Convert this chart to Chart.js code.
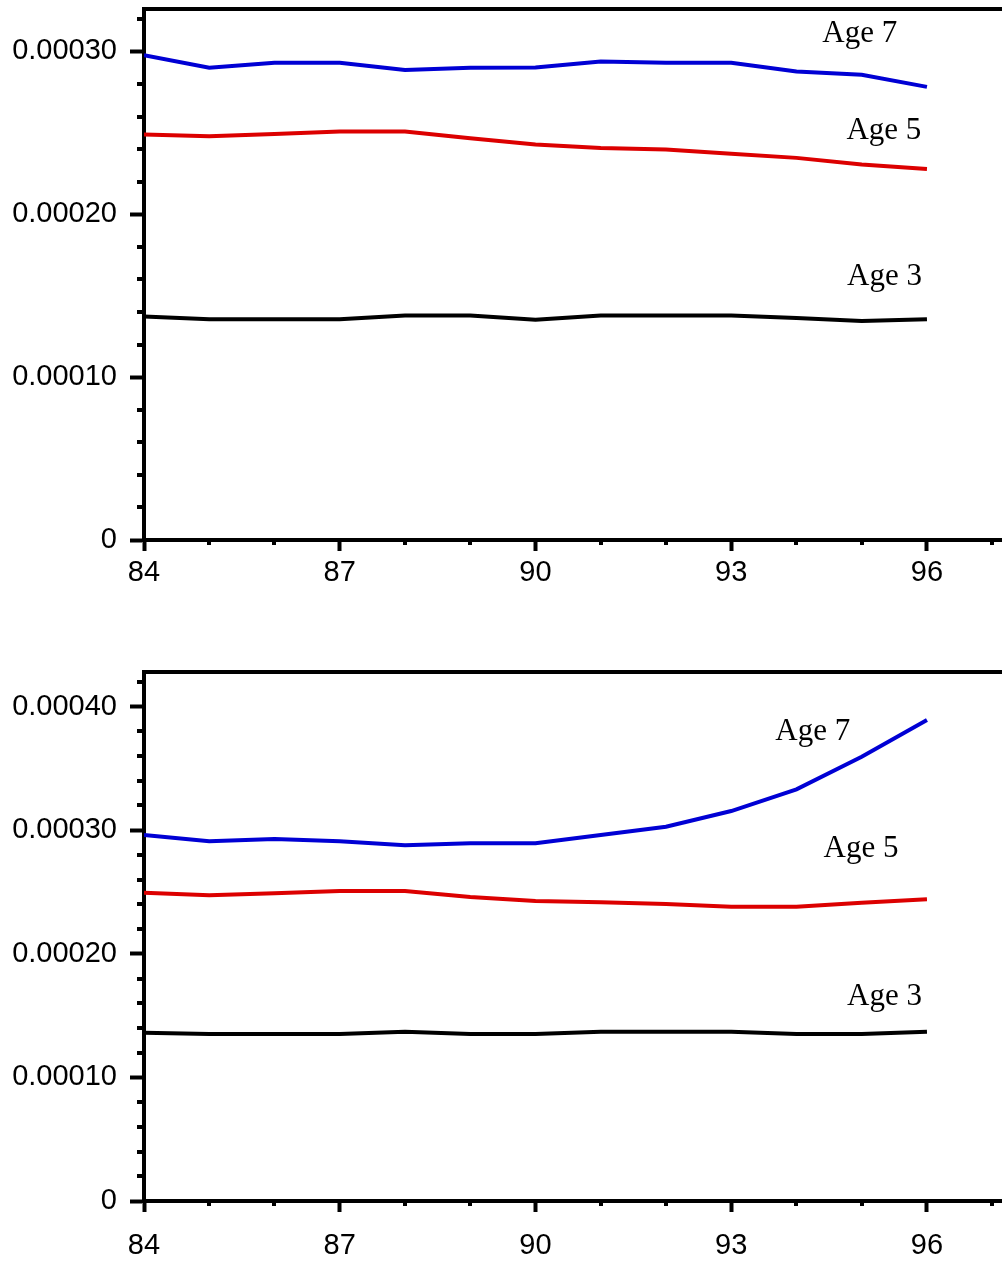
<!DOCTYPE html>
<html>
<head>
<meta charset="utf-8">
<script src="https://cdn.jsdelivr.net/npm/chart.js@4/dist/chart.umd.min.js"></script>
<style>
  html, body { margin: 0; padding: 0; background: #fff; }
  canvas { display: block; position: absolute; left: 0; }
</style>
</head>
<body>
<canvas id="panelTop" width="1002" height="632" style="top:0"></canvas>
<canvas id="panelBottom" width="1002" height="632" style="top:632px"></canvas>
<script>
// Years on the horizontal axis (19xx)
const years = [84, 85, 86, 87, 88, 89, 90, 91, 92, 93, 94, 95, 96];
const yearTicks = [84, 87, 90, 93, 96];

// Upper panel tick values
const upperTicks = [0, 0.0001, 0.0002, 0.0003];
// Lower panel tick values
const lowerTicks = [0, 0.0001, 0.0002, 0.0003, 0.0004];

// Upper panel series
const upperAge7 = [0.0002977, 0.0002899, 0.0002930, 0.0002930, 0.0002885, 0.0002899, 0.0002901,
                   0.0002938, 0.0002930, 0.0002930, 0.0002876, 0.0002856, 0.0002782];
const upperAge5 = [0.0002489, 0.0002479, 0.0002493, 0.0002508, 0.0002508, 0.0002467, 0.0002428,
                   0.0002407, 0.0002397, 0.0002372, 0.0002346, 0.0002305, 0.0002278];
const upperAge3 = [0.0001372, 0.0001356, 0.0001356, 0.0001356, 0.0001379, 0.0001379, 0.0001352,
                   0.0001379, 0.0001379, 0.0001379, 0.0001363, 0.0001344, 0.0001356];

// Lower panel series
const lowerAge7 = [0.0002961, 0.0002910, 0.0002929, 0.0002910, 0.0002878, 0.0002894, 0.0002894,
                   0.0002961, 0.0003028, 0.0003155, 0.0003331, 0.0003595, 0.0003892];
const lowerAge5 = [0.0002494, 0.0002473, 0.0002489, 0.0002508, 0.0002508, 0.0002460, 0.0002427,
                   0.0002417, 0.0002403, 0.0002381, 0.0002381, 0.0002414, 0.0002441];
const lowerAge3 = [0.0001362, 0.0001351, 0.0001351, 0.0001351, 0.0001370, 0.0001351, 0.0001351,
                   0.0001370, 0.0001370, 0.0001370, 0.0001351, 0.0001351, 0.0001370];

const BLUE = '#0000d4';
const RED = '#dc0000';
const BLACK = '#000000';

// Frame line along the top plus short minor tick marks on both axes
const axisDecor = {
  id: 'axisDecor',
  afterDraw(chart, args, opts) {
    const { ctx, chartArea } = chart;
    const xs = chart.scales.x, ys = chart.scales.y;
    ctx.save();
    ctx.strokeStyle = BLACK;
    ctx.lineWidth = 4;
    ctx.lineCap = 'butt';
    ctx.beginPath();
    ctx.moveTo(chartArea.left - 2, chartArea.top);
    ctx.lineTo(chart.width, chartArea.top);
    ctx.stroke();

    ctx.beginPath();
    for (let v = Math.ceil(xs.min); v <= xs.max; v++) {
      if (yearTicks.includes(v)) continue;
      const px = Math.round(xs.getPixelForValue(v));
      ctx.moveTo(px, chartArea.bottom);
      ctx.lineTo(px, chartArea.bottom + opts.minorX);
    }
    for (let i = 1; i * opts.minorStep <= ys.max; i++) {
      if (i % 5 === 0) continue;
      const py = Math.round(ys.getPixelForValue(i * opts.minorStep));
      ctx.moveTo(chartArea.left, py);
      ctx.lineTo(chartArea.left - opts.minorY, py);
    }
    ctx.stroke();
    ctx.restore();
  }
};

// Series names written next to their curves
const seriesNames = {
  id: 'seriesNames',
  afterDatasetsDraw(chart, args, opts) {
    const { ctx } = chart;
    const xs = chart.scales.x, ys = chart.scales.y;
    ctx.save();
    ctx.fillStyle = BLACK;
    ctx.font = '31px "Liberation Serif", "Times New Roman", serif';
    ctx.textAlign = 'center';
    ctx.textBaseline = 'alphabetic';
    for (const item of opts.items) {
      ctx.fillText(item.text, xs.getPixelForValue(item.x), ys.getPixelForValue(item.y));
    }
    ctx.restore();
  }
};

function series(values, color) {
  return {
    data: years.map((yr, i) => ({ x: yr, y: values[i] })),
    borderColor: color,
    borderWidth: 4,
    pointRadius: 0,
    tension: 0,
    fill: false
  };
}

function buildPanel(canvasId, cfg) {
  const tickFont = { family: '"Liberation Sans", Arial, sans-serif', size: 29 };
  return new Chart(document.getElementById(canvasId), {
    type: 'line',
    data: {
      datasets: [
        series(cfg.age7, BLUE),
        series(cfg.age5, RED),
        series(cfg.age3, BLACK)
      ]
    },
    options: {
      responsive: false,
      animation: false,
      events: [],
      layout: { padding: { top: cfg.padTop, left: 0, right: 0, bottom: 0 } },
      plugins: {
        legend: { display: false },
        tooltip: { enabled: false },
        axisDecor: { minorX: 5, minorY: 7, minorStep: 0.00002 },
        seriesNames: { items: cfg.names }
      },
      scales: {
        x: {
          type: 'linear',
          min: 84,
          max: 97.15,
          afterBuildTicks: s => { s.ticks = yearTicks.map(v => ({ value: v })); },
          afterFit: s => { s.height = cfg.xHeight; s.paddingLeft = 0; s.paddingRight = 0; },
          ticks: {
            color: BLACK,
            font: tickFont,
            padding: cfg.xPad,
            maxRotation: 0,
            autoSkip: false,
            callback: v => String(v)
          },
          grid: { drawOnChartArea: false, drawTicks: true, tickLength: 11, tickWidth: 4, tickColor: BLACK },
          border: { display: true, color: BLACK, width: 4 }
        },
        y: {
          type: 'linear',
          min: 0,
          max: cfg.yMax,
          afterBuildTicks: s => { s.ticks = cfg.yTicks.map(v => ({ value: v })); },
          afterFit: s => { s.width = 144; s.paddingTop = 0; s.paddingBottom = 0; },
          ticks: {
            color: BLACK,
            font: tickFont,
            padding: 13,
            autoSkip: false,
            callback: v => (v === 0 ? '0' : v.toFixed(5))
          },
          grid: { drawOnChartArea: false, drawTicks: true, tickLength: 14, tickWidth: 4, tickColor: BLACK },
          border: { display: true, color: BLACK, width: 4 }
        }
      }
    },
    plugins: [axisDecor, seriesNames]
  });
}

buildPanel('panelTop', {
  age7: upperAge7, age5: upperAge5, age3: upperAge3,
  yMax: 0.000326, yTicks: upperTicks,
  padTop: 9, xHeight: 92, xPad: 5,
  names: [
    { text: 'Age 7', x: 94.97, y: 0.0003055 },
    { text: 'Age 5', x: 95.34, y: 0.0002459 },
    { text: 'Age 3', x: 95.35, y: 0.0001567 }
  ]
});

buildPanel('panelBottom', {
  age7: lowerAge7, age5: lowerAge5, age3: lowerAge3,
  yMax: 0.000428, yTicks: lowerTicks,
  padTop: 40, xHeight: 63, xPad: 17,
  names: [
    { text: 'Age 7', x: 94.25, y: 0.000373 },
    { text: 'Age 5', x: 94.99, y: 0.000278 },
    { text: 'Age 3', x: 95.35, y: 0.0001586 }
  ]
});
</script>
</body>
</html>
